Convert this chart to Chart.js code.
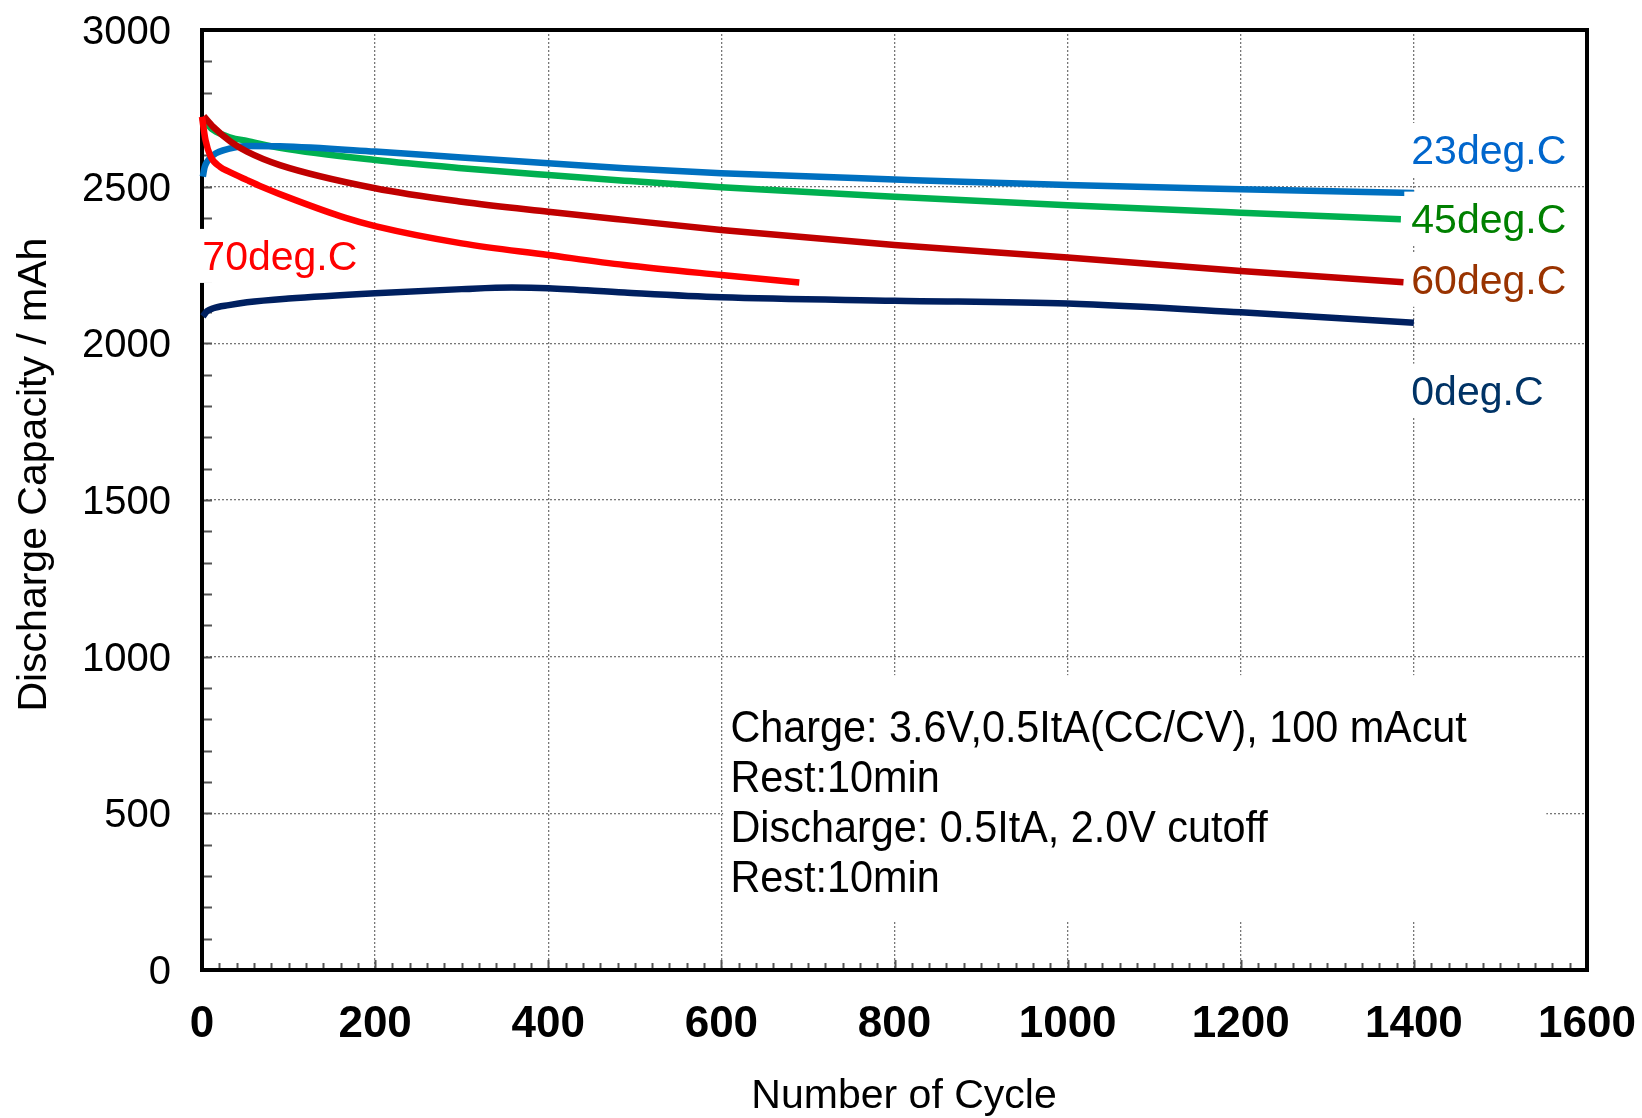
<!DOCTYPE html>
<html><head><meta charset="utf-8">
<script src="https://cdn.jsdelivr.net/npm/chart.js@4.4.1/dist/chart.umd.min.js"></script>
<style>html,body{margin:0;padding:0;background:#fff;}#wrap{width:1642px;height:1118px;position:relative;}</style>
</head><body><div id="wrap"><canvas id="c" width="1642" height="1118"></canvas></div>
<script>
// ---- data ----
const cycles23 = [1, 3, 6, 13, 33, 52, 90, 200, 300, 400, 488, 600, 800, 1000, 1200, 1400];
const cap23    = [2532, 2562, 2580, 2601, 2622, 2630, 2629, 2612, 2593, 2575, 2559, 2543, 2523, 2505, 2492, 2480];

const cycles45 = [0, 13, 33, 52, 90, 200, 300, 400, 488, 600, 800, 1000, 1200, 1385];
const cap45    = [2718, 2681, 2657, 2646, 2624, 2585, 2559, 2537, 2519, 2498, 2468, 2441, 2417, 2396];

const cycles60 = [2, 13, 33, 52, 90, 200, 300, 400, 488, 600, 800, 1000, 1200, 1388];
const cap60    = [2725, 2691, 2644, 2612, 2569, 2495, 2452, 2420, 2394, 2362, 2314, 2274, 2231, 2195];

const cycles70 = [0, 4, 10, 21, 31, 52, 69, 108, 165, 200, 300, 400, 488, 600, 690];
const cap70    = [2723, 2649, 2596, 2563, 2548, 2521, 2500, 2457, 2401, 2374, 2319, 2282, 2250, 2218, 2194];

const cycles0  = [1, 6, 13, 31, 52, 100, 200, 300, 358, 400, 488, 600, 800, 1000, 1200, 1400];
const cap0     = [2086, 2103, 2112, 2122, 2131, 2143, 2160, 2173, 2178, 2176, 2162, 2147, 2136, 2127, 2099, 2066];

const seriesNames = ['70deg.C', '60deg.C', '23deg.C', '45deg.C', '0deg.C'];
const xTicks = [0, 200, 400, 600, 800, 1000, 1200, 1400, 1600];
const yTicks = [0, 500, 1000, 1500, 2000, 2500, 3000];
const xTitle = 'Number of Cycle';
const yTitle = 'Discharge Capacity / mAh';
const noteLines = ['Charge: 3.6V,0.5ItA(CC/CV), 100 mAcut', 'Rest:10min', 'Discharge: 0.5ItA, 2.0V cutoff', 'Rest:10min'];

// ---- styles / layout ----
const lineColors  = ['#FF0000', '#C00000', '#0070C0', '#00B050', '#002060'];
const labelColors = ['#FF0000', '#993300', '#0066CC', '#008000', '#003366'];
// label anchors in data space (left edge x, vertical centre y)
const labelAnchor = [
  {x: 0.4,  y: 2279, padL: 8, padR: 4},
  {x: 1397, y: 2203, padL: 7, padR: 6},
  {x: 1397, y: 2617, padL: 7, padR: 6},
  {x: 1397, y: 2398, padL: 7, padR: 6},
  {x: 1397, y: 1849, padL: 7, padR: 6}
];
const FONT = '"Liberation Sans", Arial, Helvetica, sans-serif';

function toPts(xs, ys){ return xs.map((x,i)=>({x:x, y:ys[i]})); }
const seriesData = [toPts(cycles70,cap70), toPts(cycles60,cap60), toPts(cycles23,cap23), toPts(cycles45,cap45), toPts(cycles0,cap0)];

const decor = {
  id: 'decor',
  beforeDatasetsDraw(chart){
    const {ctx, chartArea: a, scales: {x, y}} = chart;
    ctx.save();
    ctx.strokeStyle = '#555'; ctx.lineWidth = 2;
    ctx.beginPath();
    for (let v = 20; v < 1600; v += 20){
      const px = Math.round(x.getPixelForValue(v)) + 0.5;
      const len = (v % 200 === 0) ? 10 : 7;
      ctx.moveTo(px, a.bottom); ctx.lineTo(px, a.bottom - len);
    }
    for (let v = 100; v < 3000; v += 100){
      const py = Math.round(y.getPixelForValue(v)) + 0.5;
      ctx.moveTo(a.left, py); ctx.lineTo(a.left + 10, py);
    }
    ctx.stroke();
    ctx.strokeStyle = '#000'; ctx.lineWidth = 4;
    ctx.strokeRect(a.left, a.top, a.right - a.left, a.bottom - a.top);
    ctx.restore();
  },
  afterDraw(chart){
    const {ctx, scales: {x, y}} = chart;
    ctx.save();
    ctx.font = '41px ' + FONT;
    ctx.textBaseline = 'middle'; ctx.textAlign = 'left';
    seriesNames.forEach((t, i) => {
      const an = labelAnchor[i];
      const px = x.getPixelForValue(an.x), py = y.getPixelForValue(an.y);
      const w = ctx.measureText(t).width;
      ctx.fillStyle = '#fff';
      ctx.fillRect(px - an.padL, py - 27, w + an.padL + an.padR, 54);
      ctx.fillStyle = labelColors[i];
      ctx.fillText(t, px, py + 3);
    });
    const bx0 = x.getPixelForValue(602), bx1 = x.getPixelForValue(1553);
    const by0 = y.getPixelForValue(941), by1 = y.getPixelForValue(156);
    ctx.fillStyle = '#fff';
    ctx.fillRect(bx0, by0, bx1 - bx0, by1 - by0);
    ctx.fillStyle = '#000';
    ctx.font = '44px ' + FONT;
    const tx = x.getPixelForValue(610.5);
    const lineVals = [771, 611, 450, 290];
    noteLines.forEach((t, i) => {
      const ty = y.getPixelForValue(lineVals[i]);
      ctx.save();
      ctx.translate(tx, ty);
      ctx.scale(0.94, 1);
      ctx.fillText(t, 0, 1);
      ctx.restore();
    });
    // axis titles
    ctx.textAlign = 'center';
    ctx.font = '41px ' + FONT;
    ctx.fillStyle = '#000';
    ctx.fillText(xTitle, x.getPixelForValue(811), 1097);
    ctx.save();
    ctx.translate(34, y.getPixelForValue(1581));
    ctx.rotate(-Math.PI / 2);
    ctx.fillText(yTitle, 0, 1);
    ctx.restore();
    ctx.restore();
  }
};

const chart = new Chart(document.getElementById('c'), {
  type: 'scatter',
  data: {
    datasets: seriesData.map((d, i) => ({
      label: seriesNames[i],
      data: d,
      showLine: true,
      borderColor: lineColors[i],
      backgroundColor: lineColors[i],
      borderWidth: 6.5,
      pointRadius: 0,
      pointHoverRadius: 0,
      cubicInterpolationMode: 'monotone',
      borderCapStyle: 'butt',
      clip: false
    }))
  },
  options: {
    responsive: false,
    devicePixelRatio: 1,
    animation: false,
    events: [],
    layout: {padding: 0},
    plugins: {legend: {display: false}, tooltip: {enabled: false}},
    scales: {
      x: {
        type: 'linear', min: 0, max: 1600,
        afterBuildTicks: (s) => { s.ticks = xTicks.map(v => ({value: v})); },
        afterFit: (s) => { s.height = 148; s.paddingLeft = 0; s.paddingRight = 55; },
        ticks: {font: {family: FONT, size: 44, weight: 'bold'}, color: '#000', padding: 28, callback: (v) => String(v)},
        grid: {drawTicks: false, color: '#777', lineWidth: 1.3},
        border: {display: false, dash: [2, 2]},
        title: {display: false}
      },
      y: {
        type: 'linear', min: 0, max: 3000,
        afterBuildTicks: (s) => { s.ticks = yTicks.map(v => ({value: v})); },
        afterFit: (s) => { s.width = 202; s.paddingTop = 30; s.paddingBottom = 0; },
        ticks: {font: {family: FONT, size: 40}, color: '#000', padding: 31, labelOffset: 3, callback: (v) => String(v)},
        grid: {drawTicks: false, color: '#777', lineWidth: 1.3},
        border: {display: false, dash: [2, 2]},
        title: {display: false}
      }
    }
  },
  plugins: [decor]
});
</script>
</body></html>
